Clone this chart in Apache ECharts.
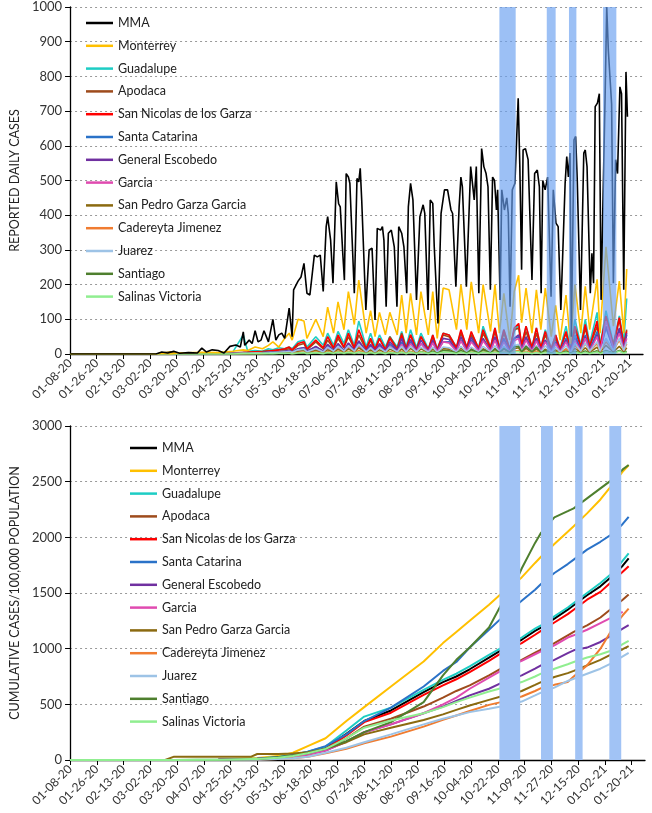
<!DOCTYPE html>
<html><head><meta charset="utf-8">
<script src="https://cdn.jsdelivr.net/npm/echarts@6.0.0/dist/echarts.min.js"></script>
<style>html,body{margin:0;padding:0;background:#fff}#c{width:652px;height:813px}</style>
</head><body><div id="c"></div>
<script>
// x tick labels (every 18 days from 01-08-20; x value = days since 01-08-20)
const tickLabels = ['01-08-20','01-26-20','02-13-20','03-02-20','03-20-20','04-07-20','04-25-20','05-13-20','05-31-20','06-18-20','07-06-20','07-24-20','08-11-20','08-29-20','09-16-20','10-04-20','10-22-20','11-09-20','11-27-20','12-15-20','01-02-21','01-20-21'];
const seriesNames = ['MMA','Monterrey','Guadalupe','Apodaca','San Nicolas de los Garza','Santa Catarina','General Escobedo','Garcia','San Pedro Garza Garcia','Cadereyta Jimenez','Juarez','Santiago','Salinas Victoria'];
const seriesColors = ['#000000','#FFC000','#1DCDC4','#9E4B1C','#FF0000','#2A72C8','#7030A0','#E04BB0','#8B6A10','#F07C30','#9DC3E6','#4E7F2E','#90EE90'];

// shaded periods (days since 01-08-20)
const bandsTop = [[290,301],[322,328],[337,342],[360,369]];
const bandsBottom = [[289,303],[317,325],[340,345],[363,371]];

// ---------- Reported daily cases ----------
const mmaDays = [0,58,62,66,70,74,80,86,89,92,96,100,104,108,112,115,117,118,121,123,125,127,129,131,134,137,139,141,143,145,148,150,151,154,156,158,160,162,165,167,169,171,173,174,176,177.6,179.8,181.4,182.5,184.2,185.3,186.5,188,189,192,193.8,195,196,197,199.8,202,204,206,207.5,209.8,211,212,213.5,215,217,219,220.8,222,224,225.5,227.4,228.5,230,231.6,234,236.3,238.5,239.6,241.8,243.3,245,246,248.5,250.6,252.9,255,257.3,258.4,260.6,262.8,264,265,267.7,270.6,273,274.4,276.1,278,279.5,281,282.3,283.9,285.4,286.7,288,288.8,290.5,291.6,293.4,295,296,297.2,298.7,300.5,302.7,303.8,305,306,307.6,309.4,312,313.8,315.6,317,318.2,319.3,320.9,322.6,324.9,326.4,328.2,329.7,331.5,334.4,335.5,336.6,337.7,338.6,340.4,341.5,342.6,344.8,347,348,349.2,351.4,352.5,353.6,354.7,356.2,357.5,358.7,359.8,361.4,362.5,363.6,365.8,367,368.5,369.8,371.4,372.5,374,375.5,376.5];
const mmaDaily = [0,0,6,3,8,2,4,3,17,6,12,10,3,22,26,20,64,25,40,30,67,35,40,67,35,100,40,55,60,45,132,50,185,210,222,261,175,170,285,280,285,180,367,396,328,204,496,433,424,290,213,520,510,492,175,506,496,535,444,127,300,305,98,362,357,367,328,136,348,357,309,136,367,348,309,175,424,492,444,156,396,430,405,127,444,434,309,88,405,473,473,415,405,194,424,510,482,194,540,444,540,175,592,540,520,482,185,510,500,415,473,156,473,415,450,405,136,473,492,737,540,243,588,592,560,213,520,530,482,175,500,473,510,165,473,377,367,127,492,569,510,579,50,617,627,500,127,579,588,540,175,290,204,713,723,750,156,405,740,1000,874,720,204,560,520,770,750,185,813,684];

const dailyDays = [0,58,64,68,72,90,100,110,117,120,125,130,134,137,141,145,148,150,154,158,160,166,171,174,178,181,185,188,192,195,200,203,206,209,213,216,221,224,227,230,234,237,242,245,248,252,256,261,264,268,271,276,279,284,287,290,293,297,300,303,305,308,312,315,318,321,325,328,331,335,338,341,345,348,351,356,358,362,367,371,374,376];
const dMonterrey = [0,0,2,0,3,5,4,8,12,10,20,15,25,35,20,45,60, 40,100,95,45,100,50,135,60,150,70,180,85,213,60,125,50,120,55,120,55,170,60,175,55,180,55,180,45,190,185,70,200,70,208,60,200,65,200,60,175,40,180,227,90,190,60,185,70,190,50,140,40,170,30,200,60,195,70,215,60,309,80,210,60,245];
const dGuadalupe = [0,0,0,0,0,2,3,6,55,8,10,8,15,12,18,15,20, 15,35,40,20,50,25,60,25,65,30,70,25,95,20,60,20,55,20,50,20,65,20,70,18,60,15,55,15,60,55,20,65,20,60,18,80,20,75,18,70,15,65,85,25,80,20,75,20,70,15,55,15,80,15,100,25,100,30,120,25,125,30,110,35,160];
const dApodaca = [0,0,3,2,1,1,2,3,5,5,6,8,10,8,12,12,15, 10,25,30,12,35,15,40,15,45,18,50,15,55,12,40,12,45,12,50,15,60,15,55,12,50,12,50,10,55,50,15,60,15,55,12,60,15,65,15,60,12,70,75,20,65,15,60,15,55,12,45,12,60,10,70,18,75,20,80,18,105,25,100,25,70];
const dSanNicolas = [0,0,0,0,0,1,2,3,4,5,6,5,8,10,12,15,20, 12,30,35,15,40,18,50,18,55,20,60,18,70,15,45,12,45,12,45,12,55,15,55,12,50,12,55,12,60,55,18,70,18,65,15,70,18,75,15,70,12,75,88,25,80,18,75,18,65,15,55,12,65,12,80,20,85,22,95,20,110,25,105,25,65];
const dSantaCatarina = [0,0,0,0,0,0,1,2,2,3,3,4,5,5,6,8,10, 5,15,18,8,20,8,25,10,28,10,30,10,35,8,25,8,25,8,28,8,35,10,35,8,30,8,35,8,35,35,10,40,10,40,10,42,10,45,10,40,8,45,50,12,45,10,45,10,40,8,35,8,45,8,55,12,55,12,65,12,75,15,70,15,55];
const dEscobedo = [0,0,0,0,0,0,1,2,2,3,3,4,5,5,6,8,10, 6,15,18,8,22,8,28,10,30,10,32,10,38,8,28,8,30,8,35,10,45,10,42,8,40,8,40,8,45,42,10,50,10,48,10,45,10,50,10,45,8,45,55,12,50,10,45,10,40,8,35,8,40,8,45,10,50,10,55,10,80,15,75,15,60];
const dGarcia = [0,0,0,0,0,0,0,1,1,2,2,2,3,3,4,5,6, 4,10,12,5,14,5,18,6,20,6,22,6,25,5,18,5,20,5,22,6,28,6,30,6,30,6,32,6,35,32,8,38,8,35,8,38,8,40,8,35,6,38,45,10,40,8,38,8,35,6,30,6,35,6,40,8,45,8,50,8,95,15,60,12,45];
const dSanPedro = [0,0,4,6,2,1,1,1,2,2,3,3,3,4,4,5,6, 3,8,10,4,10,4,12,5,14,5,15,5,18,4,12,4,12,4,14,4,15,4,16,4,15,4,15,4,15,14,5,16,5,15,4,15,5,16,4,15,4,15,18,5,16,4,15,4,14,4,12,4,14,4,16,5,18,5,20,5,25,6,22,6,18];
const dCadereyta = [0,0,0,0,0,0,0,0,1,0,1,1,2,2,2,3,3, 1,4,5,2,6,2,7,2,8,3,8,3,10,2,6,2,6,2,7,2,8,2,8,2,7,2,8,2,8,7,2,8,2,8,2,8,2,9,2,8,2,8,10,3,8,2,8,2,8,2,7,3,15,4,25,8,30,8,30,8,35,10,40,10,30];
const dJuarez = [0,0,0,0,0,0,1,1,2,2,3,3,4,4,5,6,8, 5,12,14,6,16,6,20,8,22,8,24,8,28,6,18,6,18,6,20,6,22,6,22,6,20,6,20,5,20,18,6,22,6,20,6,22,6,24,6,22,5,24,28,8,26,6,25,6,24,5,20,5,24,5,30,8,32,8,35,8,45,10,45,10,35];
const dSantiago = [0,0,0,0,0,0,0,0,0,1,0,1,1,0,1,1,2, 0,2,3,1,3,1,4,1,5,1,4,1,5,1,4,1,4,1,4,1,5,1,5,1,6,2,8,2,10,9,3,10,3,12,3,12,3,14,4,16,5,20,22,6,22,6,20,4,10,2,6,2,8,2,8,2,9,2,9,2,10,3,10,3,8];
const dSalinas = [0,0,0,0,0,0,0,0,1,1,1,1,1,1,2,2,2, 1,3,4,1,4,1,5,2,6,2,6,2,6,1,5,1,5,1,5,1,6,1,6,1,6,1,5,1,6,5,1,6,1,6,1,6,2,6,2,6,1,6,7,2,6,1,5,1,5,1,4,1,5,1,5,1,5,1,6,1,7,2,8,2,6];

// ---------- Cumulative cases / 100,000 population ----------
const cumDays = [0,64,70,100,122,126,140,150,160,172,186,198,216,238,251,260,269,282,290,295,304,313,317,326,335,339,348,357,366,372,376];
const cMMA = [0,0,0,3,10,11,22,40,65,110,235,350,445,610,700,750,815,920,985,1020,1080,1160,1190,1270,1350,1390,1480,1560,1665,1745,1810];
const cMonterrey = [0,0,0,5,15,18,35,65,125,195,350,475,660,885,1050,1150,1250,1395,1490,1540,1640,1770,1825,1940,2050,2100,2215,2340,2490,2590,2647];
const cGuadalupe = [0,0,0,4,12,13,28,45,75,120,265,390,470,630,720,775,840,945,1005,1040,1100,1180,1210,1290,1370,1410,1500,1590,1690,1790,1855];
const cApodaca = [0,0,0,3,9,10,20,32,55,90,195,300,370,480,560,620,670,760,820,850,900,965,990,1050,1120,1150,1210,1280,1376,1440,1487];
const cSanNicolas = [0,0,0,3,10,11,22,38,62,100,220,340,425,585,670,725,790,890,958,990,1050,1125,1160,1235,1310,1350,1440,1510,1620,1690,1741];
const cSantaCatarina = [0,0,0,3,10,12,25,45,75,125,230,350,470,660,800,880,1010,1170,1270,1330,1430,1530,1580,1680,1760,1800,1890,1960,2040,2120,2184];
const cEscobedo = [0,0,0,2,6,7,15,28,50,85,165,250,320,420,480,530,580,640,690,715,760,820,850,900,960,985,1010,1060,1130,1180,1211];
const cGarcia = [0,0,0,2,6,7,15,28,50,85,165,250,320,420,500,560,640,740,800,840,890,950,975,1030,1100,1120,1170,1230,1290,1331,null];
const cSanPedro = [0,0,30,30,30,54,54,58,70,100,160,230,290,360,410,450,490,540,570,585,620,675,700,745,780,800,850,900,960,995,1023];
const cCadereyta = [0,0,0,0,2,3,8,15,30,60,100,150,210,300,360,400,440,495,520,540,570,620,645,675,700,750,850,1000,1200,1300,1360];
const cJuarez = [0,0,0,0,2,3,8,15,30,65,110,160,230,320,370,400,430,460,480,495,525,580,605,650,710,730,775,820,880,930,963];
const cSantiago = [0,0,0,2,6,7,25,40,60,100,170,250,340,520,760,900,1010,1190,1390,1450,1720,1950,2040,2180,2235,2260,2350,2440,2530,2610,2650];
const cSalinas = [0,0,0,3,9,10,20,35,60,100,195,290,355,420,475,520,560,615,645,665,700,750,775,820,860,880,920,950,990,1040,1071];

const dailyOthers = [dMonterrey,dGuadalupe,dApodaca,dSanNicolas,dSantaCatarina,dEscobedo,dGarcia,dSanPedro,dCadereyta,dJuarez,dSantiago,dSalinas];
const cumAll = [cMMA,cMonterrey,cGuadalupe,cApodaca,cSanNicolas,cSantaCatarina,cEscobedo,cGarcia,cSanPedro,cCadereyta,cJuarez,cSantiago,cSalinas];

const FONT = 'Lato';
const zip = (xs, ys) => xs.map((x, i) => [x, ys[i]]);
const tickValues = tickLabels.map((_, i) => i * 18);

function xAxisDef(gridIndex){
  return {
    type:'value', gridIndex, min:0, max:387, interval:18,
    axisLine:{show:true, onZero:false, lineStyle:{color:'#000', width:1.3}},
    axisTick:{show:true, inside:false, length:5, lineStyle:{color:'#000'}, customValues:tickValues},
    axisLabel:{rotate:45, margin:7, color:'#333', fontFamily:FONT, fontSize:12,
      hideOverlap:false, overflow:'none',
      customValues:tickValues,
      formatter:v => (v % 18 === 0 && tickLabels[v/18]) ? tickLabels[v/18] : ''},
    splitLine:{show:false}
  };
}
function yAxisDef(gridIndex, max, interval, name){
  return {
    type:'value', gridIndex, min:0, max, interval, name,
    nameLocation:'middle', nameGap:49, nameRotate:90,
    nameTextStyle:{fontFamily:FONT, fontSize:12.5, color:'#222'},
    axisLine:{show:true, lineStyle:{color:'#000', width:1.3}},
    axisTick:{show:true, inside:false, length:5, lineStyle:{color:'#000'}},
    axisLabel:{margin:8, color:'#333', fontFamily:FONT, fontSize:13, formatter:v => String(v)},
    splitLine:{show:true, lineStyle:{color:'#9a9a9a', type:[2,3], width:1.2}}
  };
}

const series = [];
// daily
seriesNames.forEach((name, i) => {
  const data = i === 0 ? zip(mmaDays, mmaDaily) : zip(dailyDays, dailyOthers[i-1]);
  series.push({
    name, type:'line', xAxisIndex:0, yAxisIndex:0, data,
    showSymbol:false, symbol:'none', clip:true,
    lineStyle:{width:1.6, color:seriesColors[i]}, itemStyle:{color:seriesColors[i]},
    z: i === 0 ? 4 : (i === 1 ? 3 : 2)
  });
});
// bands top
series.push({
  name:'bandsTop', type:'line', xAxisIndex:0, yAxisIndex:0, data:[],
  markArea:{silent:true, z:10, label:{show:false},
    itemStyle:{color:'rgba(105,160,240,0.66)'},
    data:bandsTop.map(b => [{xAxis:b[0]},{xAxis:b[1]}])}
});
// cumulative
seriesNames.forEach((name, i) => {
  series.push({
    name, type:'line', xAxisIndex:1, yAxisIndex:1, data:zip(cumDays, cumAll[i]),
    showSymbol:false, symbol:'none', connectNulls:false,
    lineStyle:{width:2, color:seriesColors[i]}, itemStyle:{color:seriesColors[i]},
    z:2
  });
});
series.push({
  name:'bandsBottom', type:'line', xAxisIndex:1, yAxisIndex:1, data:[],
  markArea:{silent:true, z:10, label:{show:false},
    itemStyle:{color:'#A1C3F5'},
    data:bandsBottom.map(b => [{xAxis:b[0]},{xAxis:b[1]}])}
});

function legendDef(left, top){
  return {
    data:seriesNames, orient:'vertical', left, top, padding:0,
    itemGap:6.8, itemWidth:27, itemHeight:2.5, icon:'rect',
    textStyle:{fontFamily:FONT, fontSize:12.5, color:'#222', lineHeight:16},
    selectedMode:false
  };
}

const chart = echarts.init(document.getElementById('c'), null, {renderer:'canvas'});
chart.setOption({
  animation:false,
  backgroundColor:'#fff',
  grid:[
    {left:61, top:7, right:9, height:347},
    {left:60, top:426, right:7, height:334}
  ],
  xAxis:[xAxisDef(0), xAxisDef(1)],
  yAxis:[yAxisDef(0,1000,100,'REPORTED DAILY CASES'), yAxisDef(1,3000,500,'CUMULATIVE CASES/100,000 POPULATION')],
  legend:[legendDef(86, 15), legendDef(130, 440)],
  series
});
</script></body></html>
